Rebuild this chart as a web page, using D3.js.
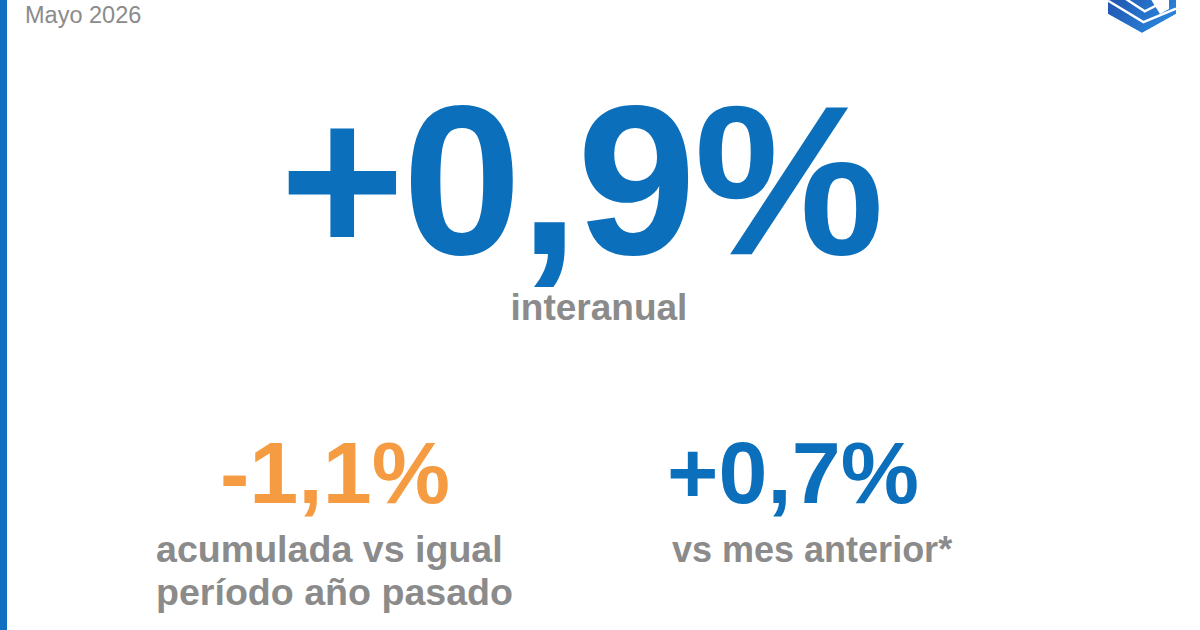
<!DOCTYPE html>
<html>
<head>
<meta charset="utf-8">
<script src="https://cdn.jsdelivr.net/npm/d3@7"></script>
<style>
  html, body { margin: 0; padding: 0; background: #fff; }
  svg { display: block; font-family: "Liberation Sans", Arial, sans-serif; }
</style>
</head>
<body>
<svg id="chart"></svg>
<script>
// datos del informe
let period = "Mayo 2026"
let kpiNames = ["interanual", "acumulada", "mensual"]
let kpiValues = [0.9, -1.1, 0.7]
let kpiLabels = [
  ["interanual"],
  ["acumulada vs igual", "período año pasado"],
  ["vs mes anterior*"]
]

let width = 1200
let height = 630

let blue = "#0b6fbb"
let orange = "#f59b42"
let gray = "#8b8b8b"

let svg = d3.select('#chart')
    .attr('width', width)
    .attr('height', height)

// formato con coma decimal y signo
let esLocale = d3.formatLocale({ decimal: ",", thousands: ".", grouping: [3], currency: ["", "€"], minus: "-" })
let fmt = esLocale.format("+.1f")

// barra lateral
svg.append('rect')
    .attr('x', 0).attr('y', 0)
    .attr('width', 7).attr('height', height)
    .attr('fill', '#1170c0')

svg.append('text')
    .attr('x', 25).attr('y', 23)
    .attr('font-size', 23.5)
    .attr('fill', gray)
    .text(period)

// logo (hexagono con franjas)
let defs = svg.append('defs')
let grad = defs.append('linearGradient')
    .attr('id', 'logoGrad')
    .attr('x1', '0').attr('y1', '0').attr('x2', '1').attr('y2', '1')
grad.append('stop').attr('offset', '0%').attr('stop-color', '#1d3f9e')
grad.append('stop').attr('offset', '100%').attr('stop-color', '#2b8fe3')

let hex = [[1108, -40], [1176, -40], [1176, 14], [1142, 33], [1108, 14]]
defs.append('clipPath').attr('id', 'hexClip')
    .append('polygon').attr('points', hex.map(p => p.join(',')).join(' '))

let logo = svg.append('g').attr('clip-path', 'url(#hexClip)')
logo.append('polygon')
    .attr('points', hex.map(p => p.join(',')).join(' '))
    .attr('fill', 'url(#logoGrad)')
// franjas blancas paralelas al borde inferior izquierdo
;[7, 14].forEach(off => {
  logo.append('path')
      .attr('d', `M1108,${14 - off * 1.9} L${1142 + off * 0.2},${33 - off * 1.9 + off * 0.35} L1176,${14 - off * 1.9 + 8}`)
      .attr('fill', 'none')
      .attr('stroke', '#fff')
      .attr('stroke-width', 2.4)
})
logo.append('polygon')
    .attr('points', '1150,-2 1169,-2 1169,9 1160,14')
    .attr('fill', '#fff')

// KPI principal
let main = svg.append('g')
main.append('text')
    .attr('x', 581).attr('y', 254)
    .attr('text-anchor', 'middle')
    .attr('font-size', 214)
    .attr('font-weight', 'bold')
    .attr('letter-spacing', -2)
    .attr('fill', kpiValues[0] < 0 ? orange : blue)
    .text(fmt(kpiValues[0]) + "%")
main.append('text')
    .attr('x', 599).attr('y', 320)
    .attr('text-anchor', 'middle')
    .attr('font-size', 37)
    .attr('font-weight', 'bold')
    .attr('fill', gray)
    .text(kpiLabels[0][0])

// KPIs secundarios
let xPos = d3.scaleOrdinal()
    .domain(kpiNames.slice(1))
    .range([335, 793])
let anchorX = d3.scaleOrdinal()
    .domain(kpiNames.slice(1))
    .range([156, 672])

let sub = svg.selectAll('.kpi')
    .data(kpiNames.slice(1).map((n, i) => ({ name: n, value: kpiValues[i + 1], label: kpiLabels[i + 1] })))
    .enter()
    .append('g')
    .attr('class', 'kpi')

sub.append('text')
    .attr('x', d => xPos(d.name))
    .attr('y', 503)
    .attr('text-anchor', 'middle')
    .attr('font-size', 88)
    .attr('font-weight', 'bold')
    .attr('fill', d => d.value < 0 ? orange : blue)
    .text(d => (d.value < 0 ? fmt(d.value).replace('+', '') : fmt(d.value)) + "%")

sub.each(function (d) {
  d3.select(this).selectAll('.lbl')
      .data(d.label)
      .enter()
      .append('text')
      .attr('class', 'lbl')
      .attr('x', anchorX(d.name))
      .attr('y', (t, i) => 562 + i * 43)
      .attr('font-size', d.name === 'mensual' ? 36 : 37.6)
      .attr('font-weight', 'bold')
      .attr('fill', gray)
      .text(t => t)
})
</script>
</body>
</html>
